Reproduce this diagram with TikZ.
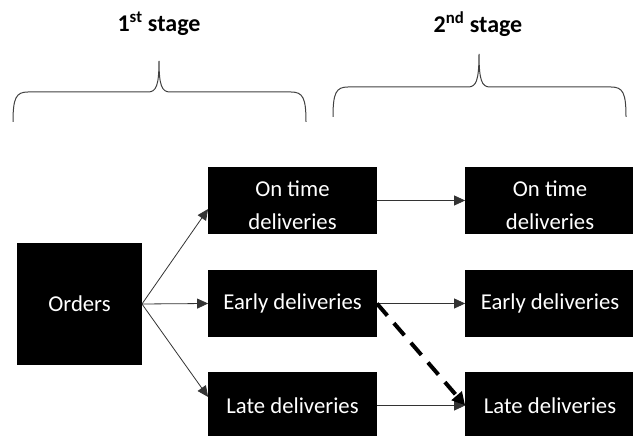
\documentclass[tikz,border=0pt]{standalone}
\usepackage{fontspec}
\setmainfont{Carlito}
\usetikzlibrary{arrows.meta}

\begin{document}
\begin{tikzpicture}[x=1bp, y=1bp,
    box/.style={fill=black, text=white, inner sep=0pt, align=center,
      font=\fontsize{22.7bp}{33bp}\selectfont},
    link/.style={draw=black!80, line width=0.8bp, -{Triangle[length=11bp,width=10bp]}},
    dashlink/.style={draw=black, line width=4bp, dash pattern=on 16bp off 10bp,
      -{Triangle[length=13bp,width=13bp]}},
    curly/.style={draw=black!75, line width=1bp}]
        \useasboundingbox (0, 0) rectangle (633, 436);
        % stages
        \node (stageA) at (159, 412) {\fontsize{24bp}{28bp}\selectfont\bfseries 1\textsuperscript{st} stage};
        \node (stageB) at (478, 412) {\fontsize{24bp}{28bp}\selectfont\bfseries 2\textsuperscript{nd} stage};
        \draw[curly] (13, 314) .. controls (13, 338) and (16, 344) .. (28, 344) -- (148, 344)
          .. controls (156, 344) and (159, 350) .. (159, 375)
          .. controls (159, 350) and (162, 344) .. (170, 344) -- (291, 344)
          .. controls (303, 344) and (306, 338) .. (306, 314);
        \draw[curly] (333, 319) .. controls (333, 343) and (336, 349) .. (348, 349) -- (468, 349)
          .. controls (476, 349) and (479, 355) .. (479, 382)
          .. controls (479, 355) and (482, 349) .. (490, 349) -- (611, 349)
          .. controls (623, 349) and (626, 343) .. (626, 319);
        % boxes
        \node[box, minimum width=125, minimum height=122] (orders) at (79.5, 132) {Orders};
        \node[box, minimum width=169, minimum height=67] (ontimeA) at (292.5, 235.5) {\rule{0pt}{26bp}On time\\deliveries};
        \node[box, minimum width=169, minimum height=67] (earlyA) at (292.5, 132.5) {Early deliveries};
        \node[box, minimum width=169, minimum height=67] (lateA) at (292.5, 30.5) {Late deliveries};
        \node[box, minimum width=170, minimum height=67] (ontimeB) at (550, 235.5) {\rule{0pt}{26bp}On time\\deliveries};
        \node[box, minimum width=170, minimum height=67] (earlyB) at (550, 132.5) {Early deliveries};
        \node[box, minimum width=170, minimum height=67] (lateB) at (550, 30.5) {Late deliveries};
        % arrows
        \draw[link] (orders.east) -- ([yshift=-8.5bp]ontimeA.west);
        \draw[link] (orders.east) -- (earlyA.west);
        \draw[link] (orders.east) -- ([yshift=8.5bp]lateA.west);
        \draw[link] (ontimeA.east) -- (ontimeB.west);
        \draw[link] (earlyA.east) -- (earlyB.west);
        \draw[link] (lateA.east) -- (lateB.west);
        \draw[dashlink] (earlyA.east) -- (lateB.west);
      \end{tikzpicture}
\end{document}
